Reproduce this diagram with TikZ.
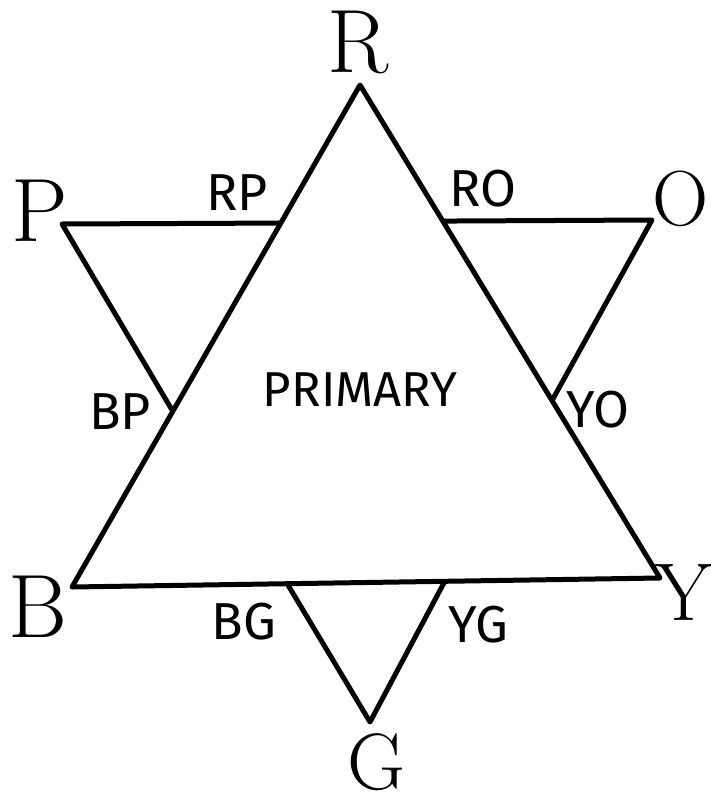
\documentclass[tikz,border=0pt]{standalone}
\usepackage{fontspec}
\setsansfont{Fira Sans}
\usetikzlibrary{positioning,calc}

\begin{document}
\begin{tikzpicture}[x=1pt,y=-1pt,
  edge/.style={line width=5pt,line join=round},
  corner/.style={inner sep=0pt,font=\fontsize{90}{90}\selectfont},
  mix/.style={inner sep=0pt,font=\sffamily\fontsize{52}{52}\selectfont}]
\useasboundingbox (0,0) rectangle (711,806);
% primary triangle
\coordinate (R) at (360,85);
\coordinate (B) at (72,587);
\coordinate (Y) at (660,578);
\draw[edge] (R) -- (B) -- (Y) -- cycle;
% secondary corners
\coordinate (P) at (62,224);
\coordinate (O) at (652,220);
\coordinate (G) at (370,722);
\coordinate (rp) at ($(R)!0.275!(B)$);
\coordinate (bp) at ($(R)!0.65!(B)$);
\coordinate (ro) at ($(R)!0.276!(Y)$);
\coordinate (yo) at ($(R)!0.64!(Y)$);
\coordinate (bg) at ($(B)!0.366!(Y)$);
\coordinate (yg) at ($(B)!0.634!(Y)$);
\draw[edge] (rp) -- (P) -- (bp);
\draw[edge] (ro) -- (O) -- (yo);
\draw[edge] (bg) -- (G) -- (yg);
% corner letters
\node[corner] (Rlab) at (358,42) {R};
\node[corner] (Plab) at (40,211) {P};
\node[corner,font=\fontsize{78}{78}\selectfont] (Olab) at (681,199) {O};
\node[corner] (Blab) at (38,607) {B};
\node[corner,font=\fontsize{82}{82}\selectfont] (Ylab) at (684,592) {Y};
\node[corner,font=\fontsize{80}{80}\selectfont] (Glab) at (377,762) {G};
% mixtures
\node[mix] (RPlab) at (237,193) {RP};
\node[mix] (ROlab) at (483,189) {RO};
\node[mix] (BPlab) at (120,412) {BP};
\node[mix] (YOlab) at (598,410) {YO};
\node[mix] (BGlab) at (244,622) {BG};
\node[mix] (YGlab) at (478,625) {YG};
\node[mix,font=\sffamily\fontsize{49}{49}\selectfont] (prim) at (360,390) {PRIMARY};
\end{tikzpicture}
\end{document}
